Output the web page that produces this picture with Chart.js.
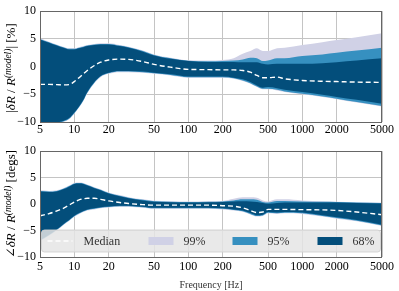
<!DOCTYPE html>
<html>
<head>
<meta charset="utf-8">
<script src="https://cdn.jsdelivr.net/npm/chart.js@4.4.1/dist/chart.umd.min.js"></script>
<style>
  body { margin: 0; background: #fff; width: 399px; height: 291px; overflow: hidden; }
  .wrap { position: absolute; left: 0; width: 399px; }
  #wrapTop { top: 0; height: 140px; }
  #wrapBot { top: 140px; height: 151px; }
</style>
</head>
<body>
<div class="wrap" id="wrapTop"><canvas id="magChart" width="399" height="140"></canvas></div>
<div class="wrap" id="wrapBot"><canvas id="phaseChart" width="399" height="151"></canvas></div>
<script>
// frequency grid [Hz]
const freqs = [5, 6, 7, 8, 9, 10, 11, 12, 13, 15, 17, 20, 25, 30, 40, 50, 70, 100, 150, 200,
  250, 300, 350, 400, 450, 500, 600, 700, 1000, 1500, 2000, 3000, 5000];
const xTicks = [5, 10, 20, 50, 100, 200, 500, 1000, 2000, 5000];

// magnitude panel [%]
const magMedian = [-3.2, -3.2, -3.25, -3.3, -3.25, -2.7, -2.0, -1.3, -0.7, 0.2, 0.8, 1.2, 1.35, 1.3, 0.9,
  0.4, -0.1, -0.5, -0.55, -0.6, -0.6, -0.7, -1.0, -1.6, -2.0, -2.0, -1.9, -2.2, -2.5, -2.65, -2.7, -2.8, -2.85];
const magHi68 = [4.9, 4.3, 3.8, 3.4, 3.1, 3.1, 3.3, 3.5, 3.7, 3.9, 4.0, 4.0, 3.7, 3.4, 2.7,
  2.0, 1.4, 1.0, 0.85, 0.85, 0.85, 0.8, 0.8, 0.8, 0.5, 0.4, 0.5, 0.5, 0.5, 0.6, 0.8, 1.1, 1.5];
const magLo68 = [-10.4, -10.3, -10.1, -9.8, -9.3, -8.3, -7.2, -6.0, -4.6, -2.8, -1.7, -1.1, -0.8, -0.8, -0.9,
  -1.1, -1.4, -1.8, -1.8, -1.8, -2.0, -2.3, -2.8, -3.4, -3.8, -3.7, -3.9, -4.2, -4.6, -5.1, -5.5, -6.0, -6.7];
const magHi95 = [5.0, 4.4, 3.9, 3.5, 3.2, 3.2, 3.4, 3.6, 3.8, 4.0, 4.1, 4.1, 3.8, 3.5, 2.8,
  2.1, 1.5, 1.05, 0.95, 1.0, 1.1, 1.3, 1.6, 1.5, 1.0, 1.1, 1.5, 1.5, 1.9, 2.2, 2.5, 2.9, 3.4];
const magLo95 = [-10.5, -10.4, -10.2, -9.9, -9.4, -8.4, -7.3, -6.1, -4.7, -2.9, -1.8, -1.2, -0.9, -0.9, -1.0,
  -1.2, -1.5, -1.9, -1.9, -1.9, -2.1, -2.5, -3.0, -3.6, -4.0, -4.0, -4.2, -4.5, -4.9, -5.4, -5.8, -6.4, -7.1];
const magHi99 = [5.1, 4.5, 4.0, 3.6, 3.3, 3.3, 3.5, 3.7, 3.9, 4.1, 4.2, 4.2, 3.9, 3.6, 2.9,
  2.2, 1.6, 1.15, 1.1, 1.2, 1.5, 2.3, 2.8, 3.3, 2.8, 2.8, 3.3, 3.4, 3.9, 4.4, 4.8, 5.3, 6.0];
const magLo99 = [-10.6, -10.5, -10.3, -10.0, -9.5, -8.5, -7.4, -6.2, -4.8, -3.0, -1.9, -1.3, -1.0, -1.0, -1.1,
  -1.3, -1.6, -2.0, -2.0, -2.0, -2.2, -2.6, -3.1, -3.7, -4.1, -4.1, -4.3, -4.6, -5.0, -5.5, -5.9, -6.5, -7.2];

// phase panel [degs]
const phaseMedian = [-2.2, -1.8, -1.3, -0.8, -0.2, 0.4, 0.8, 1.0, 1.1, 1.1, 0.9, 0.6, 0.3, 0.1, -0.1,
  -0.2, -0.2, -0.2, -0.2, -0.3, -0.4, -0.7, -1.2, -1.6, -1.5, -1.0, -1.0, -1.0, -1.05, -1.1, -1.2, -1.5, -2.0];
const phaseHi68 = [2.4, 2.3, 2.4, 2.8, 3.3, 3.8, 3.9, 3.8, 3.5, 3.0, 2.6, 2.0, 1.5, 1.1, 0.7,
  0.45, 0.35, 0.3, 0.35, 0.4, 0.5, 0.55, 0.5, 0.4, 0.2, 0.05, 0.2, 0.3, 0.3, 0.3, 0.3, 0.2, 0.1];
const phaseLo68 = [-6.8, -5.8, -4.8, -3.8, -3.0, -2.2, -1.7, -1.3, -1.0, -0.8, -0.6, -0.45, -0.3, -0.3, -0.5,
  -0.7, -0.7, -0.7, -0.7, -0.8, -1.0, -1.2, -1.7, -2.1, -2.0, -1.5, -1.6, -1.5, -1.6, -2.1, -2.5, -3.0, -3.9];
const phaseHi95 = [2.5, 2.4, 2.5, 2.9, 3.4, 3.9, 4.0, 3.9, 3.6, 3.1, 2.7, 2.1, 1.6, 1.2, 0.8,
  0.55, 0.45, 0.4, 0.45, 0.5, 0.7, 0.9, 0.9, 0.8, 0.4, 0.3, 0.6, 0.6, 0.5, 0.45, 0.4, 0.3, 0.2];
const phaseLo95 = [-6.9, -5.9, -4.9, -3.9, -3.1, -2.3, -1.8, -1.4, -1.1, -0.9, -0.7, -0.55, -0.4, -0.4, -0.6,
  -0.8, -0.8, -0.8, -0.8, -0.9, -1.1, -1.35, -1.85, -2.25, -2.15, -1.65, -1.75, -1.65, -1.75, -2.25, -2.65, -3.15, -4.05];
const phaseHi99 = [2.6, 2.5, 2.6, 3.0, 3.5, 4.0, 4.1, 4.0, 3.7, 3.2, 2.8, 2.2, 1.7, 1.3, 0.9,
  0.65, 0.55, 0.5, 0.55, 0.6, 1.0, 1.3, 1.3, 1.2, 0.7, 0.5, 0.9, 0.9, 0.7, 0.55, 0.45, 0.35, 0.25];
const phaseLo99 = [-7.0, -6.0, -5.0, -4.0, -3.2, -2.4, -1.9, -1.5, -1.2, -1.0, -0.8, -0.65, -0.5, -0.5, -0.7,
  -0.9, -0.9, -0.9, -0.9, -1.0, -1.2, -1.45, -1.95, -2.35, -2.25, -1.75, -1.85, -1.75, -1.85, -2.35, -2.75, -3.25, -4.15];

const colors = { c99: '#d0d1e6', c95: '#3690c0', c68: '#034e7b' };
const serif = "'Liberation Serif', 'DejaVu Serif', serif";

function pts(arr) {
  return freqs.map((f, i) => ({ x: f, y: arr[i] }));
}

function band(arr, fillTo, color) {
  return {
    data: pts(arr),
    borderColor: 'transparent',
    borderWidth: 0,
    backgroundColor: color || 'transparent',
    fill: fillTo === undefined ? false : fillTo,
    pointRadius: 0,
    cubicInterpolationMode: 'monotone'
  };
}

// dataset 0 is drawn on top, the last one first
function buildSets(med, lo68, hi68, lo95, hi95, lo99, hi99) {
  return [
    {
      data: pts(med), borderColor: '#ffffff', borderWidth: 1.4, borderDash: [5, 3],
      pointRadius: 0, fill: false, cubicInterpolationMode: 'monotone'
    },
    band(lo68),
    band(hi68, 1, colors.c68),
    band(lo95),
    band(hi95, 3, colors.c95),
    band(lo99),
    band(hi99, 5, colors.c99)
  ];
}

function drawRich(ctx, parts, cx, cy) {
  let total = 0;
  parts.forEach(p => { ctx.font = p.font; p.w = ctx.measureText(p.t).width; total += p.w; });
  ctx.save();
  ctx.translate(cx, cy);
  ctx.rotate(-Math.PI / 2);
  ctx.fillStyle = '#000';
  ctx.textBaseline = 'middle';
  ctx.textAlign = 'left';
  let x = -total / 2;
  parts.forEach(p => {
    ctx.font = p.font;
    ctx.fillText(p.t, x, p.dy || 0);
    x += p.w;
  });
  ctx.restore();
}

function decor(titleParts, titleX, titleY, legend) {
  return {
    id: 'decor',
    afterDraw(chart) {
      const ctx = chart.ctx;
      const a = chart.chartArea;
      if (legend) {
        const top = a.bottom - 27, h = 22, left = a.left + 1.5, w = a.right - a.left - 3;
        ctx.save();
        ctx.beginPath();
        ctx.roundRect(left, top, w, h, 3);
        ctx.fillStyle = 'rgba(229,229,229,0.85)';
        ctx.fill();
        ctx.strokeStyle = 'rgba(210,210,210,0.9)';
        ctx.lineWidth = 1;
        ctx.stroke();
        const cy = top + h / 2;
        ctx.strokeStyle = '#fff';
        ctx.lineWidth = 1.4;
        ctx.setLineDash([5, 3]);
        ctx.beginPath();
        ctx.moveTo(left + 6, cy);
        ctx.lineTo(left + 31, cy);
        ctx.stroke();
        ctx.setLineDash([]);
        ctx.font = '12px ' + serif;
        ctx.fillStyle = '#333';
        ctx.textBaseline = 'middle';
        ctx.fillText('Median', left + 42, cy + 1);
        const boxes = [[colors.c99, '99%', 107], [colors.c95, '95%', 191], [colors.c68, '68%', 276]];
        boxes.forEach(([c, t, bx]) => {
          ctx.fillStyle = c;
          ctx.fillRect(left + bx, cy - 4, 25, 8);
          ctx.fillStyle = '#333';
          ctx.fillText(t, left + bx + 35, cy + 1);
        });
        ctx.restore();
      }
      ctx.save();
      ctx.strokeStyle = '#666';
      ctx.lineWidth = 1;
      ctx.strokeRect(Math.round(a.left) + 0.5, Math.round(a.top) + 0.5,
        Math.round(a.right - a.left) - 1, Math.round(a.bottom - a.top));
      ctx.restore();
      drawRich(ctx, titleParts, titleX, titleY);
    }
  };
}

function makeChart(canvasId, datasets, pad, xHeight, xTitle, tickPad, plugin) {
  return new Chart(document.getElementById(canvasId), {
    type: 'line',
    data: { datasets: datasets },
    options: {
      responsive: false,
      animation: false,
      devicePixelRatio: 1,
      layout: { padding: pad },
      plugins: { legend: { display: false }, tooltip: { enabled: false } },
      scales: {
        x: {
          type: 'logarithmic',
          min: 5,
          max: 5000,
          afterBuildTicks: scale => { scale.ticks = xTicks.map(v => ({ value: v })); },
          afterFit: scale => { scale.height = xHeight; },
          grid: { color: '#c4c4c4', drawTicks: false },
          border: { display: false },
          ticks: {
            autoSkip: false, maxRotation: 0, padding: tickPad, color: '#000',
            font: { family: serif, size: 12 },
            callback: v => String(v)
          },
          title: {
            display: !!xTitle, text: xTitle || '', color: '#333',
            font: { family: serif, size: 10 }, padding: { top: 1, bottom: 0 }
          }
        },
        y: {
          min: -10,
          max: 10,
          afterFit: scale => { scale.width = 40; },
          grid: { color: '#c4c4c4', drawTicks: false },
          border: { display: false },
          ticks: {
            stepSize: 2.5, padding: 4, color: '#000',
            font: { family: serif, size: 12 },
            callback: v => (v % 5 === 0 ? String(v).replace('-', '\u2212') : '')
          }
        }
      }
    },
    plugins: [plugin]
  });
}

const it = s => 'italic ' + s + 'px ' + serif;
const rm = s => s + 'px ' + serif;

const magTitle = [
  { t: '|', font: rm(13) }, { t: '\u03b4R', font: it(13) }, { t: ' / ', font: rm(13) },
  { t: 'R', font: it(13) }, { t: '(model)', font: it(9.5), dy: -4 }, { t: '|', font: rm(13) },
  { t: ' [%]', font: rm(13) }
];
const phaseTitle = [
  { t: '\u2220', font: rm(13) }, { t: '\u03b4R', font: it(13) }, { t: ' / ', font: rm(13) },
  { t: 'R', font: it(13) }, { t: '(model)', font: it(9.5), dy: -4 }, { t: ' [degs]', font: rm(13) }
];

makeChart('magChart',
  buildSets(magMedian, magLo68, magHi68, magLo95, magHi95, magLo99, magHi99),
  { left: 0, right: 17, top: 10, bottom: 0 }, 18, null, 1,
  decor(magTitle, 12, 68, false));

makeChart('phaseChart',
  buildSets(phaseMedian, phaseLo68, phaseHi68, phaseLo95, phaseHi95, phaseLo99, phaseHi99),
  { left: 0, right: 17, top: 6, bottom: 0 }, 34, 'Frequency [Hz]', 3,
  decor(phaseTitle, 12, 64, true));
</script>
</body>
</html>
